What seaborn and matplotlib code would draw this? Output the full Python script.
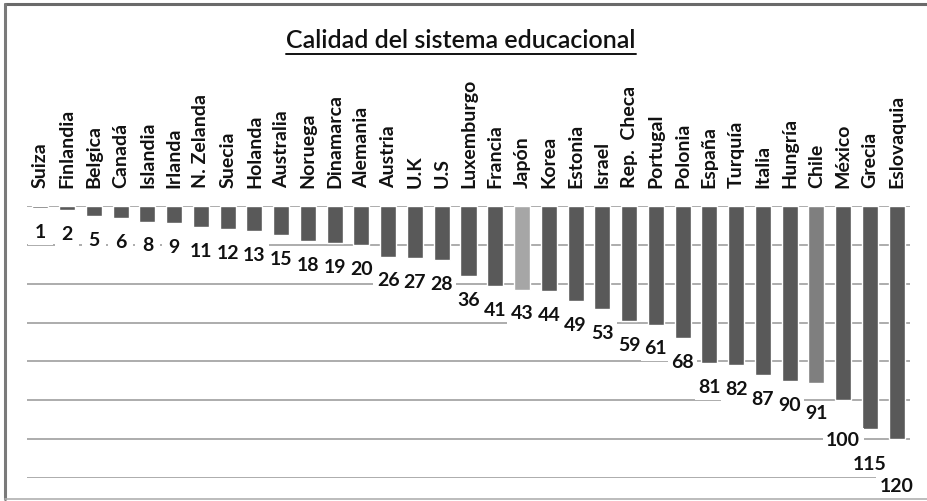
import matplotlib
matplotlib.use("Agg")
import matplotlib.pyplot as plt
from matplotlib.lines import Line2D
from matplotlib.path import Path
import seaborn as sns
import pandas as pd

# Ranking of education-system quality (position, lower is better)
countries = ["Suiza", "Finlandia", "Belgica", "Canadá", "Islandia", "Irlanda",
             "N. Zelanda", "Suecia", "Holanda", "Australia", "Noruega",
             "Dinamarca", "Alemania", "Austria", "U.K", "U.S", "Luxemburgo",
             "Francia", "Japón", "Korea", "Estonia", "Israel", "Rep.  Checa",
             "Portugal", "Polonia", "España", "Turquía", "Italia", "Hungría",
             "Chile", "México", "Grecia", "Eslovaquia"]
ranking = [1, 2, 5, 6, 8, 9, 11, 12, 13, 15, 18, 19, 20, 26, 27, 28, 36, 41,
           43, 44, 49, 53, 59, 61, 68, 81, 82, 87, 90, 91, 100, 115, 120]

# Extra downward shift (points) for a few crowded labels at the right end
label_nudge = {"Chile": 4.5, "México": 11.0, "Grecia": 8.0, "Eslovaquia": 16.5}

DARK = "#595959"
highlight = {"Japón": "#A6A6A6", "Chile": "#7F7F7F"}
palette = {c: highlight.get(c, DARK) for c in countries}

sns.set_theme(style="white")
plt.rcParams["font.family"] = ["Lato", "DejaVu Sans"]

W, H = 927, 501
fig = plt.figure(figsize=(W / 100, H / 100), dpi=100)
fig.patch.set_facecolor("white")

# axes: x 27..910 px, y 206 (value 0) .. 478 (value 140) px
ax = fig.add_axes([27 / W, 1 - 478 / H, (910 - 27) / W, (478 - 206) / H])

df = pd.DataFrame({"pais": countries, "puesto": ranking})
sns.barplot(data=df, x="pais", y="puesto", hue="pais", palette=palette,
            legend=False, width=0.6, saturation=1, ax=ax, zorder=2)

ax.set_ylim(140, 0)
ax.set_xlim(-0.5, len(countries) - 0.5)
ax.set_yticks(range(0, 141, 20))
ax.set_yticklabels([])
ax.set_xlabel("")
ax.set_ylabel("")
ax.grid(axis="y", color="#A6A6A6", linewidth=1.3, zorder=0)
ax.grid(axis="x", visible=False)
ax.set_axisbelow(True)
for s in ax.spines.values():
    s.set_visible(False)
ax.tick_params(axis="y", length=0)

ax.xaxis.tick_top()
ax.tick_params(axis="x", length=0, pad=13)
for lab in ax.get_xticklabels():
    lab.set_rotation(90)
    lab.set_fontsize(14)
    lab.set_fontweight("bold")
    lab.set_color("#111111")


def label_box(x0, y0, width, height, mutation_size):
    """White label box with a minimum width and slim top/bottom padding."""
    py = 0.2 * mutation_size
    px = max(0.18 * mutation_size, (1.25 * mutation_size - width) / 2)
    x0, x1 = x0 - px, x0 + width + px
    y0, y1 = y0 - py, y0 + height + py
    return Path([(x0, y0), (x1, y0), (x1, y1), (x0, y1), (x0, y0)],
                closed=True)


# value labels below each bar end, on white boxes
for i, (c, v) in enumerate(zip(countries, ranking)):
    ax.annotate(str(v), xy=(i, v), xytext=(0, -17.6 - label_nudge.get(c, 0.0)),
                textcoords="offset points", ha="center", va="center",
                fontsize=14, fontweight="bold", color="#111111",
                annotation_clip=False, zorder=4,
                bbox=dict(boxstyle=label_box, fc="white", ec="none"))

# underlined title
title = fig.text(461 / W, 1 - 48 / H, "Calidad del sistema educacional",
                 ha="center", va="baseline", fontsize=18, color="#111111",
                 fontweight="semibold")
fig.canvas.draw()
bb = title.get_window_extent()
uy = bb.y0 - 2.0
fig.add_artist(Line2D([bb.x0 / W, bb.x1 / W], [uy / H, uy / H],
                      transform=fig.transFigure, color="#111111", lw=1.4))

# chart frame
fig.add_artist(Line2D([4.5 / W, 1], [1 - 3.5 / H, 1 - 3.5 / H],
                      transform=fig.transFigure, color="#6a6a6a", lw=2.2))
fig.add_artist(Line2D([4.5 / W, 4.5 / W], [1 - 3.5 / H, 1 - 499 / H],
                      transform=fig.transFigure, color="#7a7a7a", lw=2.2))
fig.add_artist(Line2D([4.5 / W, 1], [1 - 499 / H, 1 - 499 / H],
                      transform=fig.transFigure, color="#b0b0b0", lw=1.2))

fig.savefig("out.png", dpi=100)
